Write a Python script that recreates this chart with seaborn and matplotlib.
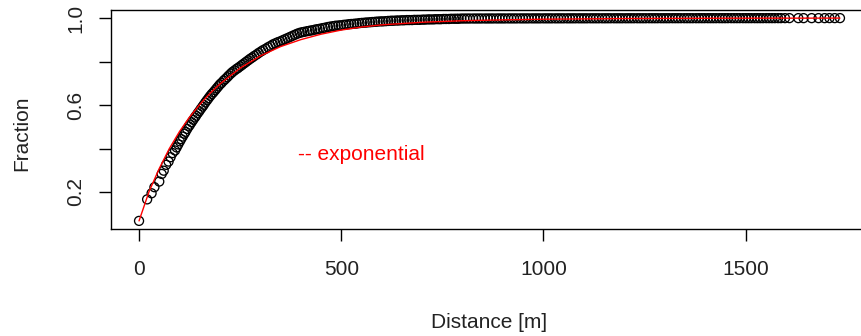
import matplotlib
matplotlib.use("Agg")
import matplotlib.pyplot as plt
import seaborn as sns
import pandas as pd

# ---------------- data ----------------
dist_head = [0, 20, 31, 38, 50, 56, 61, 67, 73, 78, 83, 89]
frac_head = [0.067, 0.166, 0.194, 0.222, 0.248, 0.283, 0.298, 0.325, 0.340, 0.360, 0.379, 0.391]

dist_mid = [93, 97, 101, 104, 108, 112, 115, 119, 123, 126, 130, 134, 138, 141, 145, 149,
            153, 157, 160, 164, 168, 172, 176, 180, 184, 188, 192, 196, 200, 204, 209, 213,
            218, 222, 227, 231, 236, 241, 245, 250, 255, 260, 265, 270, 275, 280, 285, 291,
            296, 302, 307, 313, 319, 325, 331, 337, 343, 349, 355, 361, 367, 373, 379, 385,
            391, 397, 403, 409, 416, 422, 428, 435, 441, 447, 454, 460, 467, 473, 480, 486,
            493, 499, 506, 512, 519, 525, 532, 538, 545, 551, 558, 564, 571, 577, 584, 590,
            597, 603, 610, 616, 623, 629, 636, 642, 649, 655, 662, 668, 675, 681, 688, 694,
            701, 707, 714, 720, 727, 733, 740, 746, 753, 759, 766, 772, 779, 785, 790]
frac_mid = [0.405, 0.419, 0.433, 0.443, 0.455, 0.468, 0.477, 0.490, 0.502, 0.510, 0.521, 0.532,
            0.543, 0.551, 0.562, 0.572, 0.583, 0.593, 0.601, 0.612, 0.622, 0.632, 0.642, 0.651,
            0.659, 0.668, 0.677, 0.686, 0.695, 0.702, 0.712, 0.719, 0.728, 0.736, 0.745, 0.752,
            0.759, 0.766, 0.771, 0.778, 0.785, 0.792, 0.799, 0.806, 0.813, 0.819, 0.826, 0.833,
            0.840, 0.847, 0.853, 0.859, 0.866, 0.872, 0.879, 0.884, 0.889, 0.893, 0.898, 0.903,
            0.908, 0.913, 0.918, 0.923, 0.928, 0.932, 0.935, 0.937, 0.940, 0.942, 0.944, 0.947,
            0.949, 0.951, 0.954, 0.956, 0.959, 0.961, 0.963, 0.965, 0.966, 0.967, 0.969, 0.970,
            0.972, 0.973, 0.974, 0.975, 0.977, 0.978, 0.979, 0.980, 0.981, 0.982, 0.983, 0.984,
            0.985, 0.985, 0.986, 0.987, 0.988, 0.988, 0.989, 0.989, 0.990, 0.990, 0.991, 0.991,
            0.991, 0.992, 0.992, 0.992, 0.993, 0.993, 0.994, 0.994, 0.994, 0.995, 0.995, 0.995,
            0.996, 0.996, 0.996, 0.997, 0.997, 0.997, 0.997]

dist_flat = [797, 804, 811, 818, 826, 833, 840, 847, 855, 862, 869, 876, 884, 891, 898, 905,
             913, 920, 927, 934, 942, 949, 956, 963, 971, 978, 985, 992, 1000, 1007, 1014, 1021,
             1029, 1036, 1043, 1050, 1058, 1065, 1072, 1079, 1087, 1094, 1101, 1108, 1116, 1123,
             1130, 1137, 1145, 1152, 1159, 1166, 1174, 1181, 1188, 1195, 1203, 1210, 1217, 1224,
             1232, 1239, 1246, 1253, 1261, 1268, 1275, 1282, 1290, 1297, 1304, 1311, 1319, 1326,
             1333, 1340, 1348, 1355, 1362, 1369, 1377, 1384, 1391, 1398, 1406, 1413, 1420, 1427,
             1435, 1442, 1449, 1456, 1464, 1471, 1478, 1485, 1493, 1500, 1507, 1514, 1522, 1529,
             1536, 1543, 1551, 1558, 1565, 1572, 1580, 1587]
frac_flat = [0.9980, 0.9980, 0.9981, 0.9981, 0.9982, 0.9982, 0.9982, 0.9983, 0.9983, 0.9983,
             0.9984, 0.9984, 0.9984, 0.9985, 0.9985, 0.9985, 0.9986, 0.9986, 0.9986, 0.9986,
             0.9987, 0.9987, 0.9987, 0.9987, 0.9988, 0.9988, 0.9988, 0.9988, 0.9989, 0.9989,
             0.9989, 0.9989, 0.9989, 0.9990, 0.9990, 0.9990, 0.9990, 0.9990, 0.9991, 0.9991,
             0.9991, 0.9991, 0.9991, 0.9991, 0.9992, 0.9992, 0.9992, 0.9992, 0.9992, 0.9992,
             0.9993, 0.9993, 0.9993, 0.9993, 0.9993, 0.9993, 0.9993, 0.9994, 0.9994, 0.9994,
             0.9994, 0.9994, 0.9994, 0.9994, 0.9995, 0.9995, 0.9995, 0.9995, 0.9995, 0.9995,
             0.9995, 0.9995, 0.9996, 0.9996, 0.9996, 0.9996, 0.9996, 0.9996, 0.9996, 0.9996,
             0.9996, 0.9997, 0.9997, 0.9997, 0.9997, 0.9997, 0.9997, 0.9997, 0.9997, 0.9997,
             0.9997, 0.9998, 0.9998, 0.9998, 0.9998, 0.9998, 0.9998, 0.9998, 0.9998, 0.9998,
             0.9998, 0.9998, 0.9998, 0.9998, 0.9999, 0.9999, 0.9999, 0.9999, 0.9999, 0.9999]

dist_tail = [1597, 1608, 1630, 1643, 1663, 1680, 1695, 1707, 1720, 1733]
frac_tail = [0.9999, 0.9999, 0.9999, 0.9999, 0.9999, 0.9999, 0.9999, 1.0, 1.0, 1.0]

# exponential fit (red curve)
fit_dist = [0, 25, 50, 75, 100, 125, 150, 175, 200, 250, 300, 350, 400, 450, 500, 550,
            600, 700, 800, 900, 1000, 1200, 1450, 1733]
fit_frac = [0.067, 0.203, 0.308, 0.400, 0.478, 0.545, 0.602, 0.653, 0.697, 0.770, 0.826,
            0.869, 0.901, 0.926, 0.945, 0.959, 0.969, 0.981, 0.988, 0.992, 0.995, 0.998,
            0.9995, 1.0]

x_ticks = [0, 500, 1000, 1500]
y_ticks = [0.2, 0.4, 0.6, 0.8, 1.0]
y_tick_labels = ["0.2", "", "0.6", "", "1.0"]
x_label = "Distance [m]"
y_label = "Fraction"
legend_text = "-- exponential"

# ---------------- plotting ----------------
sns.set_style("ticks")
plt.rcParams["font.family"] = ["Liberation Sans", "DejaVu Sans"]

dist_all = dist_head + dist_mid + dist_flat + dist_tail
frac_all = frac_head + frac_mid + frac_flat + frac_tail
n = min(len(dist_all), len(frac_all))
pts = pd.DataFrame({"dist": dist_all[:n], "frac": frac_all[:n]})
fit = pd.DataFrame({"dist": fit_dist, "frac": fit_frac})

W, H = 861, 336
fig = plt.figure(figsize=(W / 100, H / 100), dpi=100)
ax = fig.add_axes([111 / W, 107 / H, (868 - 111) / W, 219 / H])

sns.scatterplot(data=pts, x="dist", y="frac", ax=ax, marker="o", s=42,
                facecolor="none", edgecolor="black", linewidth=0.95, legend=False)
sns.lineplot(data=fit, x="dist", y="frac", ax=ax, color="#ff0000", linewidth=1.0,
             estimator=None, sort=True, legend=False)

xmin, xmax = pts["dist"].min(), pts["dist"].max()
ymin, ymax = pts["frac"].min(), pts["frac"].max()
ax.set_xlim(xmin - 0.04 * (xmax - xmin), xmax + 0.04 * (xmax - xmin))
ax.set_ylim(ymin - 0.04 * (ymax - ymin), ymax + 0.04 * (ymax - ymin))

ax.set_xticks(x_ticks)
ax.set_xticklabels([str(t) for t in x_ticks])
ax.set_yticks(y_ticks)
ax.set_yticklabels(y_tick_labels, rotation=90, va="center")

for s in ax.spines.values():
    s.set_visible(True)
    s.set_color("black")
    s.set_linewidth(1.0)

ax.tick_params(axis="both", direction="out", length=8.6, width=1.0, color="black",
               labelsize=15, labelcolor="#222222")
ax.tick_params(axis="x", pad=14)
ax.tick_params(axis="y", pad=10)
ax.set_xlabel("")
ax.set_ylabel("")

fig.text(22 / W, 1 - 133 / H, y_label, rotation=90, ha="center", va="center",
         fontsize=15, color="#222222")
fig.text(489 / W, 1 - 322 / H, x_label, ha="center", va="center",
         fontsize=15, color="#222222")

ax.text(392, 0.371, legend_text, color="#ff0000", fontsize=15, ha="left", va="center")

fig.savefig("out.png", dpi=100)
